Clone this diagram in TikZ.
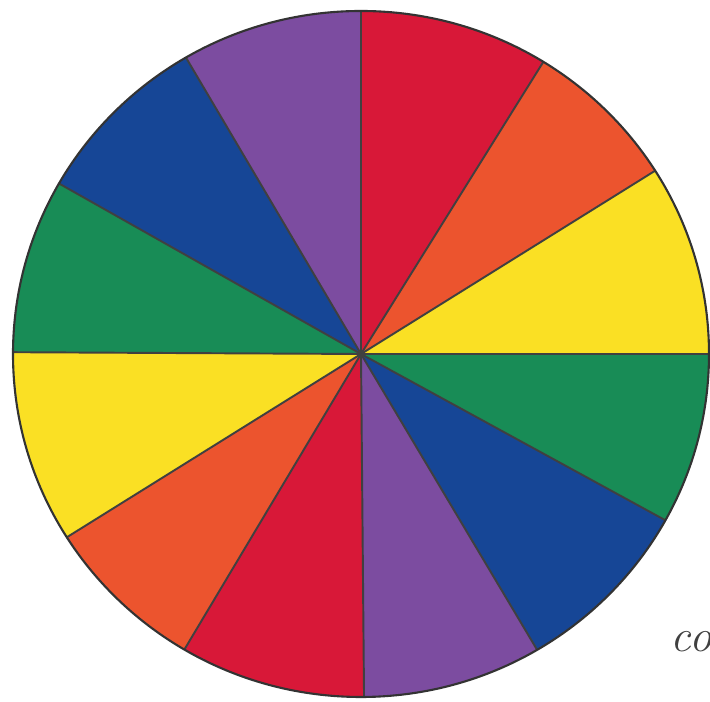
\documentclass[tikz,border=0pt]{standalone}
\usetikzlibrary{calc}

\definecolor{wheelred}{RGB}{216,24,56}
\definecolor{wheelorange}{RGB}{236,84,46}
\definecolor{wheelyellow}{RGB}{250,224,36}
\definecolor{wheelgreen}{RGB}{24,140,86}
\definecolor{wheelblue}{RGB}{22,70,150}
\definecolor{wheelpurple}{RGB}{124,76,160}

\begin{document}
\begin{tikzpicture}[
    rim/.style={draw=black!80, line width=0.6pt},
    spoke/.style={draw=black!75, line width=0.55pt},
    note/.style={font=\fontsize{13}{13}\selectfont\itshape, text=black!75, inner sep=0pt, anchor=west}
]
\useasboundingbox (0,0) rectangle (7.10,7.02);
\clip (0,0) rectangle (7.10,7.02);

% Centre of the wheel
\coordinate (hub) at (3.61,3.48);

% Coloured sectors
\foreach \from/\to/\col in {90/58.4/wheelred, 58.4/32.3/wheelorange, 32.3/0/wheelyellow,
    0/-29/wheelgreen, -29/-59.6/wheelblue, -59.6/-89.5/wheelpurple,
    -89.5/-120.5/wheelred, -120.5/-147.7/wheelorange, -147.7/-180.3/wheelyellow,
    -180.3/-209.8/wheelgreen, -209.8/-239.8/wheelblue, -239.8/-270/wheelpurple}
  \fill[\col] (hub) -- +(\from:3.48 and 3.43)
    arc[start angle=\from, end angle=\to, x radius=3.48cm, y radius=3.43cm] -- cycle;

% Spokes
\foreach \ang [count=\i] in {90,58.4,32.3,0,-29,-59.6,-89.5,-120.5,-147.7,-180.3,-209.8,-239.8}
  \coordinate (tip\i) at ($(hub)+(\ang:3.48 and 3.43)$);
\foreach \i in {1,...,12}
  \draw[spoke] (hub) -- (tip\i);

% Outline
\draw[rim] (hub) ellipse[x radius=3.48cm, y radius=3.43cm];

% Note in the corner
\node[note] (caption) at (6.70,0.60) {co};

\end{tikzpicture}
\end{document}
